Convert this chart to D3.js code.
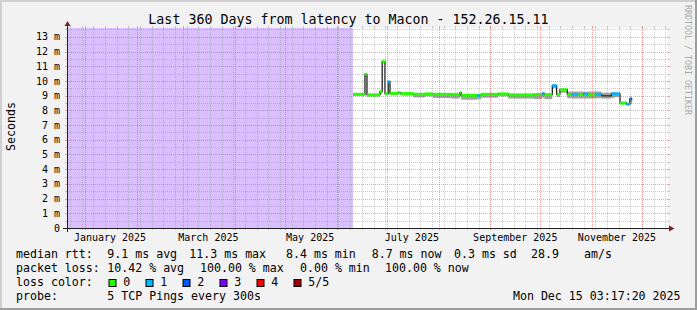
<!DOCTYPE html>
<html><head><meta charset="utf-8">
<script src="https://cdn.jsdelivr.net/npm/d3@7"></script>
<style>
html,body{margin:0;padding:0;background:#f2f2f2}
svg{display:block}
text{font-family:"DejaVu Sans Mono",monospace}
</style>
</head><body>
<svg id="chart" width="697" height="310"></svg>
<script>
// ---------- data ----------
const chartTitle = "Last 360 Days from latency to Macon - 152.26.15.11";
const rangeStart = "2024-12-20T03:17:20Z";
const rangeEnd = "2025-12-15T03:17:20Z";

const segStart = [
"2025-06-10T17:00Z","2025-06-17T21:00Z","2025-06-19T02:00Z","2025-06-26T21:00Z","2025-06-28T05:00Z",
"2025-06-29T21:00Z","2025-07-01T19:00Z","2025-07-02T21:00Z","2025-07-07T20:00Z","2025-07-09T07:00Z",
"2025-07-16T19:00Z","2025-07-23T20:00Z","2025-07-28T14:00Z","2025-08-08T14:00Z","2025-08-13T19:00Z",
"2025-08-14T14:00Z","2025-08-24T05:00Z","2025-08-25T19:00Z","2025-08-26T14:00Z","2025-09-05T19:00Z",
"2025-09-11T19:00Z","2025-09-26T19:00Z","2025-10-02T05:00Z","2025-10-03T10:00Z","2025-10-08T05:00Z",
"2025-10-10T19:00Z","2025-10-12T19:00Z","2025-10-17T05:00Z","2025-10-19T19:00Z","2025-10-23T19:00Z",
"2025-10-26T19:00Z","2025-10-29T07:00Z","2025-11-02T19:00Z","2025-11-06T17:00Z","2025-11-12T17:00Z",
"2025-11-14T17:00Z","2025-11-17T19:00Z","2025-11-21T17:00Z","2025-11-23T17:00Z"];
const segEnd = "2025-11-25T02:00Z";

const medianMs = [9.09,10.45,9.05,9.27,11.31, 9.14,9.95,9.16,9.2,9.14, 9.09,9.12,9.09,9.07,9.2,
  9.03,9.0,9.03,9.09,9.12, 9.05,9.07,9.15,9.07,9.68, 9.09,9.4,9.07,9.09,9.07,
  9.12,9.05,9.09,8.98,9.12, 9.12,8.5,8.42,8.78];
const smokeLowMs = [9.0,10.3,8.95,9.1,11.2, 9.02,9.85,9.05,9.1,9.02, 8.88,8.95,8.84,8.8,8.9,
  8.72,8.75,8.75,8.86,8.95, 8.8,8.76,8.85,8.76,9.5, 8.9,9.2,8.82,8.8,8.8,
  8.8,8.8,8.82,8.8,8.85, 8.9,8.45,8.38,8.45];
const smokeHighMs = [9.15,10.5,9.12,9.3,11.35, 9.18,10.0,9.2,9.25,9.18, 9.15,9.16,9.14,9.12,9.22,
  9.1,9.08,9.1,9.14,9.16, 9.12,9.12,9.18,9.12,9.72, 9.14,9.45,9.28,9.28,9.28,
  9.26,9.28,9.28,9.2,9.25, 9.22,8.55,8.48,8.82];
const lossCount = [0,0,0,0,0, 0,1,0,0,0, 0,0,0,0,0, 0,1,0,0,0, 0,0,1,0,1, 0,0,0,1,0, 1,0,1,-1,1, 1,0,1,2];

const lossColors = ["#26ff00","#00b8ff","#0059ff","#7e00ff","#ff0000","#a10000"];
const lossLabels = ["0","1","2","3","4","5/5"];
const lossBgColor = "#d9bfff";

const yTickValues = [0,1,2,3,4,5,6,7,8,9,10,11,12,13];
const monthLabelDates = ["2025-01-01","2025-03-01","2025-05-01","2025-07-01","2025-09-01","2025-11-01"];
const monthLabels = ["January 2025","March 2025","May 2025","July 2025","September 2025","November 2025"];

const legendRtt = [["median rtt:",16],["9.1 ms avg",107.3],["11.3 ms max",189.3],["8.4 ms min",286],
  ["8.7 ms now",371.7],["0.3 ms sd",454],["28.9",531],["am/s",584]];
const legendLoss = [["packet loss:",16],["10.42 % avg",107.3],["100.00 % max",200],["0.00 % min",300],["100.00 % now",385]];
const probeText = "5 TCP Pings every 300s";
const stampText = "Mon Dec 15 03:17:20 2025";

(function () {
// ---------- layout ----------
const W = 697, H = 310;
const pL = 67, pR = 668, pT = 28, pB = 228;
const svg = d3.select("#chart");

const x = d3.scaleUtc().domain([new Date(rangeStart), new Date(rangeEnd)]).range([65.2, 665.6]);
const y = d3.scaleLinear().domain([0, 13.6]).range([pB, pT]);

// background + bevel
svg.append("rect").attr("width", W).attr("height", H).attr("fill", "#f2f2f2");
svg.append("path").attr("d", `M0,0H${W}V2H2V${H}H0Z`).attr("fill", "#cfcfcf");
svg.append("path").attr("d", `M${W},${H}H0V${H-2}H${W-2}V0H${W}Z`).attr("fill", "#9e9e9e");

// canvas
svg.append("rect").attr("x", pL).attr("y", pT).attr("width", pR - pL).attr("height", pB - pT).attr("fill", "#ffffff");

// loss background before data
const dataStartX = x(new Date(segStart[0]));
svg.append("rect").attr("x", pL).attr("y", pT).attr("width", dataStartX - pL).attr("height", pB - pT).attr("fill", lossBgColor);

// segments
const segs = segStart.map((s, i) => ({
  t0: new Date(s), t1: new Date(i + 1 < segStart.length ? segStart[i + 1] : segEnd),
  med: medianMs[i], lo: smokeLowMs[i], hi: smokeHighMs[i], loss: lossCount[i]
}));

// smoke
svg.append("g").selectAll("rect").data(segs).join("rect")
  .attr("x", d => x(d.t0)).attr("width", d => x(d.t1) - x(d.t0))
  .attr("y", d => y(d.hi)).attr("height", d => y(d.lo) - y(d.hi))
  .attr("fill", "#a3a3a3");

// thin median line (steps)
const pts = segs.map(d => [d.t0, d.med]);
pts.push([segs[segs.length - 1].t1, segs[segs.length - 1].med]);
svg.append("path").attr("d", d3.line().x(d => x(d[0])).y(d => y(d[1])).curve(d3.curveStepAfter)(pts))
  .attr("fill", "none").attr("stroke", "#202020").attr("stroke-width", 1.3);

// colored loss segments
svg.append("g").selectAll("line").data(segs.filter(d => d.loss >= 0)).join("line")
  .attr("x1", d => x(d.t0)).attr("x2", d => x(d.t1))
  .attr("y1", d => y(d.med)).attr("y2", d => y(d.med))
  .attr("stroke", d => lossColors[d.loss]).attr("stroke-width", 3);

// grid (on top)
const grid = svg.append("g");
const minorCol = "rgba(143,143,143,0.45)", majorCol = "rgba(222,79,79,0.5)";
const halfSteps = d3.range(1, 28).map(v => v / 2).filter(v => v % 1 !== 0);
halfSteps.forEach(v => {
  const yy = Math.round(y(v)) + 0.5;
  if (yy < pT) return;
  grid.append("line").attr("x1", pL).attr("x2", pR).attr("y1", yy).attr("y2", yy)
    .attr("stroke", minorCol).attr("stroke-dasharray", "1,1");
  grid.append("line").attr("x1", pL - 2).attr("x2", pL).attr("y1", yy).attr("y2", yy).attr("stroke", minorCol);
  grid.append("line").attr("x1", pR).attr("x2", pR + 2).attr("y1", yy).attr("y2", yy).attr("stroke", minorCol);
});
const weeks = d3.utcMonday.range(new Date(rangeStart), new Date(rangeEnd));
weeks.forEach(t => {
  const xx = Math.round(x(t)) + 0.5;
  if (xx <= pL || xx >= pR) return;
  grid.append("line").attr("x1", xx).attr("x2", xx).attr("y1", pT).attr("y2", pB)
    .attr("stroke", minorCol).attr("stroke-dasharray", "1,1");
  grid.append("line").attr("x1", xx).attr("x2", xx).attr("y1", pT - 2).attr("y2", pT).attr("stroke", minorCol);
  grid.append("line").attr("x1", xx).attr("x2", xx).attr("y1", pB).attr("y2", pB + 2).attr("stroke", minorCol);
});
yTickValues.filter(v => v > 0).forEach(v => {
  const yy = Math.round(y(v)) + 0.5;
  grid.append("line").attr("x1", pL).attr("x2", pR).attr("y1", yy).attr("y2", yy)
    .attr("stroke", majorCol).attr("stroke-dasharray", "1,1");
  grid.append("line").attr("x1", pL - 2).attr("x2", pL).attr("y1", yy).attr("y2", yy).attr("stroke", majorCol);
  grid.append("line").attr("x1", pR).attr("x2", pR + 2).attr("y1", yy).attr("y2", yy).attr("stroke", majorCol);
});
const months = d3.utcMonth.range(new Date(rangeStart), new Date(rangeEnd));
months.forEach(t => {
  const xx = Math.round(x(t)) + 0.5;
  if (xx <= pL || xx >= pR) return;
  grid.append("line").attr("x1", xx).attr("x2", xx).attr("y1", pT).attr("y2", pB)
    .attr("stroke", majorCol).attr("stroke-dasharray", "1,1");
  grid.append("line").attr("x1", xx).attr("x2", xx).attr("y1", pT - 2).attr("y2", pT).attr("stroke", majorCol);
  grid.append("line").attr("x1", xx).attr("x2", xx).attr("y1", pB).attr("y2", pB + 2).attr("stroke", majorCol);
});

// axes
svg.append("line").attr("x1", pL - 4).attr("x2", pR + 4).attr("y1", pB + 0.5).attr("y2", pB + 0.5).attr("stroke", "#1f1f1f");
svg.append("line").attr("x1", pL + 0.5).attr("x2", pL + 0.5).attr("y1", pB + 4).attr("y2", pT - 4).attr("stroke", "#1f1f1f");
svg.append("path").attr("d", `M${pL - 2.5},${pT - 2}L${pL + 3.5},${pT - 2}L${pL + 0.5},${pT - 7}Z`).attr("fill", "#801f1f");
svg.append("path").attr("d", `M${pR + 1},${pB - 2.5}L${pR + 1},${pB + 3.5}L${pR + 6.5},${pB + 0.5}Z`).attr("fill", "#801f1f");

// y labels
svg.append("g").selectAll("text").data(yTickValues).join("text")
  .attr("x", 60).attr("y", d => y(d) + 3.6).attr("text-anchor", "end")
  .attr("font-size", "10px").attr("fill", "#000")
  .text(d => d === 0 ? "0" : d + " m");

// x labels (centered mid-month)
svg.append("g").selectAll("text").data(monthLabelDates).join("text")
  .attr("x", d => x(d3.utcDay.offset(new Date(d + "T00:00Z"), 15)))
  .attr("y", 241).attr("text-anchor", "middle").attr("font-size", "10px").attr("fill", "#000")
  .text((d, i) => monthLabels[i]);

// title
svg.append("text").attr("x", W / 2).attr("y", 24).attr("text-anchor", "middle")
  .attr("font-size", "13.3px").attr("fill", "#000").text(chartTitle);

// vertical axis title
svg.append("text").attr("transform", "translate(15,126.5) rotate(-90)").attr("text-anchor", "middle")
  .attr("font-size", "11.6px").attr("fill", "#000").text("Seconds");

// watermark
svg.append("text").attr("transform", "translate(684.5,5) rotate(90)").attr("text-anchor", "start")
  .attr("font-size", "8.3px").attr("fill", "#aaaaaa").text("RRDTOOL / TOBI OETIKER");

// legend
const lg = svg.append("g").attr("font-size", "11.6px").attr("fill", "#000");
legendRtt.forEach(([t, xx]) => lg.append("text").attr("x", xx).attr("y", 258).text(t));
legendLoss.forEach(([t, xx]) => lg.append("text").attr("x", xx).attr("y", 272).text(t));
lg.append("text").attr("x", 16).attr("y", 286).text("loss color:");
lossLabels.forEach((lab, i) => {
  const bx = 108.5 + i * 37;
  lg.append("rect").attr("x", bx + 0.5).attr("y", 279.5).attr("width", 7).attr("height", 7)
    .attr("fill", lossColors[i]).attr("stroke", "#000").attr("stroke-width", 1);
  lg.append("text").attr("x", bx + 14.8).attr("y", 286).text(lab);
});
lg.append("text").attr("x", 16).attr("y", 300).text("probe:");
lg.append("text").attr("x", 107.3).attr("y", 300).text(probeText);
lg.append("text").attr("x", 680.5).attr("y", 300).attr("text-anchor", "end").text(stampText);
})();
</script>
</body></html>
